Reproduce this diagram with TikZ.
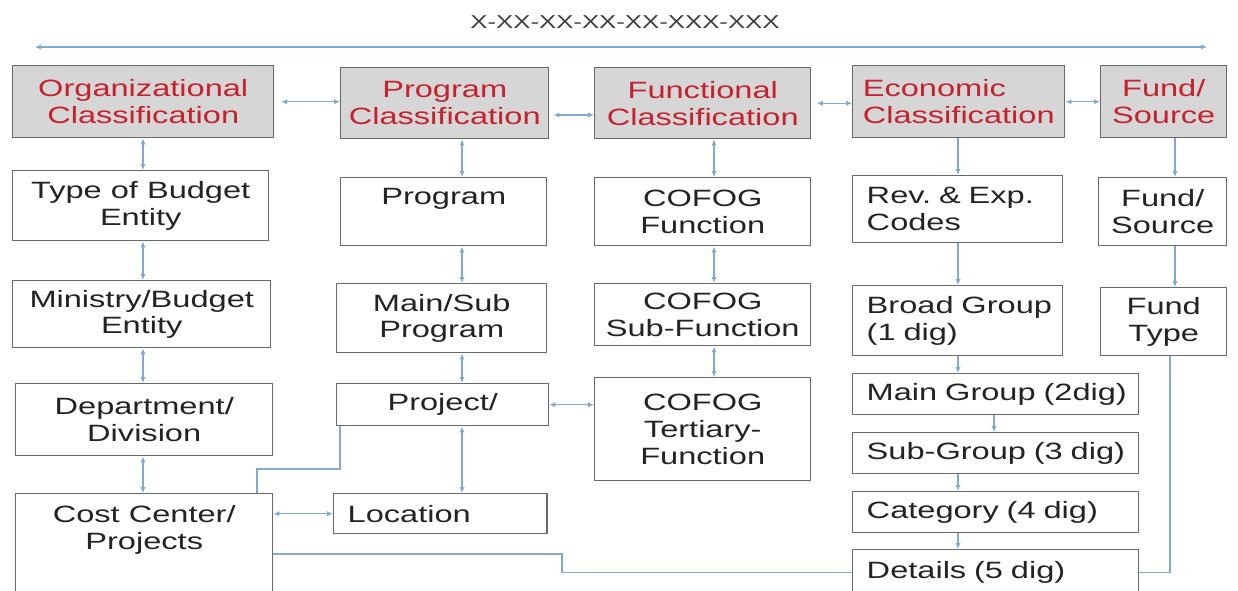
\documentclass[tikz,border=0pt]{standalone}
\usepackage{fontspec}
\setmainfont{Liberation Sans}[FakeStretch=1.38]
\usetikzlibrary{arrows.meta}

\definecolor{hdrfill}{RGB}{214,214,214}
\definecolor{hdrtext}{RGB}{196,34,46}
\definecolor{lnblue}{RGB}{130,168,212}
\definecolor{boxgray}{RGB}{105,105,105}
\definecolor{txtgray}{RGB}{35,35,35}

\begin{document}
\begin{tikzpicture}[x=0.75pt,y=0.75pt,yscale=-1,xscale=1,
  box/.style={draw=boxgray, line width=1.1pt, anchor=north west, inner sep=0pt, align=center,
    font=\fontsize{17.7}{20}\selectfont, text=txtgray},
  hdr/.style={box, fill=hdrfill, text=hdrtext},
  lft/.style={box, align=left, inner xsep=10.5pt},
  lnk/.style={draw=lnblue, line width=1pt},
  twoway/.style={lnk, {Latex[length=4.5pt,width=4pt]}-{Latex[length=4.5pt,width=4pt]}},
  oneway/.style={lnk, -{Latex[length=4.5pt,width=4pt]}}
]
\useasboundingbox (0,0) rectangle (1238,590);

% Title and code line
\node [font=\fontsize{14}{16}\selectfont, text={rgb,255:red,60;green,60;blue,60}] (title) at (625,22) {X-XX-XX-XX-XX-XXX-XXX};
\coordinate (codeL) at (35,47);
\coordinate (codeR) at (1207,47);
\draw [twoway] (codeL) -- (codeR);

% Header boxes
\node [hdr, minimum width=195.75pt, minimum height=54pt] (orgC) at (12,65) {Organizational\\Classification};
\node [hdr, minimum width=156pt, minimum height=53.25pt] (progC) at (340,67) {Program\\Classification};
\node [hdr, minimum width=162pt, minimum height=53.25pt] (funcC) at (594,67) {Functional\\Classification};
\node [hdr, align=left, minimum width=159pt, minimum height=54pt] (econC) at (852,65) {Economic\\Classification};
\node [hdr, minimum width=94.5pt, minimum height=54pt] (fundC) at (1100,65) {Fund/\\Source};

% Organizational column
\node [box, minimum width=192pt, minimum height=52.5pt] (typeE) at (12,170) {Type of Budget\\Entity};
\node [box, minimum width=193.5pt, minimum height=50.25pt] (minBE) at (12,280) {Ministry/Budget\\Entity};
\node [box, minimum width=192.75pt, minimum height=54pt] (dept) at (15,383) {Department/\\Division};
\node [box, minimum width=192.75pt, inner ysep=9pt] (cost) at (15,493) {Cost Center/\\Projects\\[48pt]~};

% Program column
\node [box, minimum width=154.5pt, text height=20.25pt, text depth=30.75pt] (prog) at (340,177) {Program};
\node [box, minimum width=157.5pt, minimum height=51.75pt] (mainSub) at (336,283) {Main/Sub\\Program};
\node [box, minimum width=159pt, minimum height=31.5pt] (proj) at (336,383) {Project/};
\node [lft, text width=139pt, minimum height=30pt] (loc) at (333,493) {Location};

% Functional column
\node [box, minimum width=162pt, minimum height=51pt] (cofogF) at (594,177) {COFOG\\Function};
\node [box, minimum width=162pt, minimum height=46.5pt] (cofogSF) at (594,283) {COFOG\\Sub-Function};
\node [box, minimum width=162pt, minimum height=77.25pt] (cofogTF) at (594,377) {COFOG\\Tertiary-\\Function};

% Economic column
\node [lft, text width=136.5pt, minimum height=50.25pt] (revExp) at (852,175) {Rev.~\&~Exp.\\Codes};
\node [lft, text width=136.5pt, minimum height=52.5pt] (broad) at (852,285) {Broad~Group\\(1~dig)};
\node [lft, text width=193.5pt, minimum height=30.75pt] (mainG) at (852,373) {\mbox{Main Group (2dig)}};
\node [lft, text width=193.5pt, minimum height=30.75pt] (subG) at (852,432) {\mbox{Sub-Group (3 dig)}};
\node [lft, text width=193.5pt, minimum height=30.75pt] (cat) at (852,491) {\mbox{Category (4 dig)}};
\node [lft, text width=193.5pt, minimum height=34.5pt] (det) at (852,549) {\mbox{Details (5 dig)}};

% Fund column
\node [box, minimum width=96pt, minimum height=51pt] (fundS) at (1098,177) {Fund/\\Source};
\node [box, minimum width=94.5pt, minimum height=51pt] (fundT) at (1100,287) {Fund\\Type};

% lanes for the links
\coordinate (oLane) at (143,0);
\coordinate (pLane) at (462,0);
\coordinate (fLane) at (714,0);
\coordinate (eLane) at (958,0);
\coordinate (gLane) at (994,0);
\coordinate (sLane) at (1175,0);
\coordinate (tLane) at (1170,0);
\coordinate (pfRow) at (0,115);
\coordinate (bendA) at (257,469);
\coordinate (bendB) at (340,469);
\coordinate (bendC) at (562,554);

% header links
\draw [twoway, shorten <=5pt] (orgC.east) -- (orgC.east -| progC.west);
\draw [twoway, shorten <=3pt] (progC.east |- pfRow) -- (funcC.west |- pfRow);
\draw [twoway, shorten <=4pt] (funcC.east) -- (funcC.east -| econC.west);
\draw [twoway] (econC.east) -- (econC.east -| fundC.west);

% organizational links
\draw [twoway] (orgC.south -| oLane) -- (typeE.north -| oLane);
\draw [twoway] (typeE.south -| oLane) -- (minBE.north -| oLane);
\draw [twoway] (minBE.south -| oLane) -- (dept.north -| oLane);
\draw [twoway] (dept.south -| oLane) -- (cost.north -| oLane);
\draw [twoway] (loc.west -| cost.east) -- (loc.west);
\draw [lnk] (cost.north -| bendA) -- (bendA) -- (bendB) -- (proj.south -| bendB);
\draw [lnk] (cost.east |- bendC) -- (bendC) |- (det.west);

% program links
\draw [twoway] (progC.south -| pLane) -- (prog.north -| pLane);
\draw [twoway] (prog.south -| pLane) -- (mainSub.north -| pLane);
\draw [twoway] (mainSub.south -| pLane) -- (proj.north -| pLane);
\draw [twoway] (proj.south -| pLane) -- (loc.north -| pLane);
\draw [twoway] (proj.east) -- (proj.east -| cofogTF.west);

% functional links
\draw [twoway] (funcC.south -| fLane) -- (cofogF.north -| fLane);
\draw [twoway] (cofogF.south -| fLane) -- (cofogSF.north -| fLane);
\draw [twoway] (cofogSF.south -| fLane) -- (cofogTF.north -| fLane);

% economic links
\draw [oneway] (econC.south -| eLane) -- (revExp.north -| eLane);
\draw [oneway] (revExp.south -| eLane) -- (broad.north -| eLane);
\draw [oneway] (broad.south -| eLane) -- (mainG.north -| eLane);
\draw [oneway] (mainG.south -| gLane) -- (subG.north -| gLane);
\draw [oneway] (subG.south -| eLane) -- (cat.north -| eLane);
\draw [oneway] (cat.south -| eLane) -- (det.north -| eLane);

% fund links
\draw [oneway] (fundC.south -| sLane) -- (fundS.north -| sLane);
\draw [oneway] (fundS.south -| sLane) -- (fundT.north -| sLane);
\draw [lnk] (fundT.south -| tLane) |- (det.east);

\end{tikzpicture}
\end{document}
